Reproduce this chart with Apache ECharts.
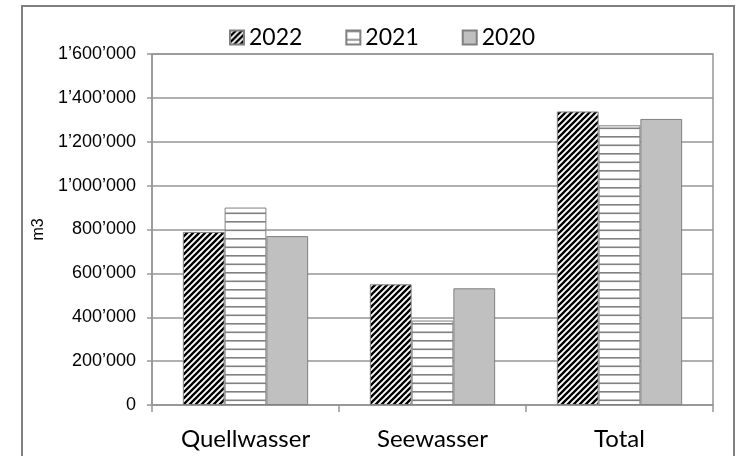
<!DOCTYPE html>
<html>
<head>
<meta charset="utf-8">
<script src="https://cdn.jsdelivr.net/npm/echarts@6/dist/echarts.min.js"></script>
<style>
  html, body { margin: 0; padding: 0; background: #ffffff; }
  #chart { width: 742px; height: 456px; }
</style>
</head>
<body>
<div id="chart"></div>
<script>
// Water volumes per source and year (m3)
const categories = ['Quellwasser', 'Seewasser', 'Total'];
const years = ['2022', '2021', '2020'];
const values2022 = [789000, 550000, 1338000];
const values2021 = [900000, 385000, 1275000];
const values2020 = [770000, 532000, 1304000];
const yTicks = { min: 0, max: 1600000, interval: 200000 };

// Diagonal black hatch fill
function hatchPattern() {
  const c = document.createElement('canvas');
  c.width = 6; c.height = 6;
  const g = c.getContext('2d');
  g.fillStyle = '#ffffff';
  g.fillRect(0, 0, 6, 6);
  g.strokeStyle = '#000000';
  g.lineWidth = 2.3;
  g.beginPath();
  g.moveTo(-1, 7); g.lineTo(7, -1);
  g.moveTo(-4, 4); g.lineTo(4, -4);
  g.moveTo(2, 10); g.lineTo(10, 2);
  g.stroke();
  return c;
}

// White fill with horizontal grey lines
function linesPattern() {
  const c = document.createElement('canvas');
  c.width = 4; c.height = 17;
  const g = c.getContext('2d');
  g.fillStyle = '#ffffff';
  g.fillRect(0, 0, 4, 17);
  g.fillStyle = '#808080';
  g.fillRect(0, 0, 4, 1.6);
  g.fillRect(0, 8.5, 4, 1.6);
  return c;
}

const fills = [
  { image: hatchPattern(), repeat: 'repeat' },
  { image: linesPattern(), repeat: 'repeat' },
  '#c0c0c0'
];
const seriesValues = [values2022, values2021, values2020];

function fmt(v) {
  return String(v).replace(/\B(?=(\d{3})+(?!\d))/g, '\u2019');
}

const chart = echarts.init(document.getElementById('chart'), null, { renderer: 'canvas' });
chart.setOption({
  animation: false,
  backgroundColor: '#ffffff',
  graphic: [{
    type: 'rect',
    shape: { x: 22, y: 6, width: 712, height: 460 },
    style: { fill: 'none', stroke: '#808080', lineWidth: 2 },
    silent: true
  }],
  legend: {
    top: 21,
    left: 224,
    itemWidth: 14,
    itemHeight: 14,
    itemGap: 43,
    textStyle: { fontFamily: 'Lato', fontSize: 23, color: '#000000' },
    data: years.map(y => ({ name: y, icon: 'rect' }))
  },
  grid: {
    left: 152, right: 29, top: 54, bottom: 51,
    show: true, borderColor: '#969696', borderWidth: 1.5
  },
  xAxis: {
    type: 'category',
    data: categories,
    axisLine: { lineStyle: { color: '#969696', width: 1.5 } },
    axisTick: { show: true, length: 7, interval: 0, lineStyle: { color: '#969696', width: 1.5 } },
    axisLabel: { fontFamily: 'Lato', fontSize: 24, color: '#000000', margin: 22 }
  },
  yAxis: {
    type: 'value',
    min: yTicks.min, max: yTicks.max, interval: yTicks.interval,
    name: 'm3',
    nameLocation: 'middle',
    nameRotate: 90,
    nameGap: 101,
    nameTextStyle: { fontFamily: 'Liberation Sans', fontSize: 16, color: '#000000' },
    axisLine: { show: true, lineStyle: { color: '#969696', width: 1.5 } },
    axisTick: { show: true, length: 5, lineStyle: { color: '#969696', width: 1.5 } },
    splitLine: { show: true, lineStyle: { color: '#969696', width: 1.5 } },
    axisLabel: { fontFamily: 'Liberation Sans', fontSize: 18, color: '#000000', margin: 16, formatter: fmt }
  },
  series: years.map((y, i) => ({
    name: y,
    type: 'bar',
    data: seriesValues[i],
    barGap: '0%',
    barCategoryGap: '33%',
    itemStyle: { color: fills[i], borderColor: '#808080', borderWidth: 1 }
  }))
});
</script>
</body>
</html>
